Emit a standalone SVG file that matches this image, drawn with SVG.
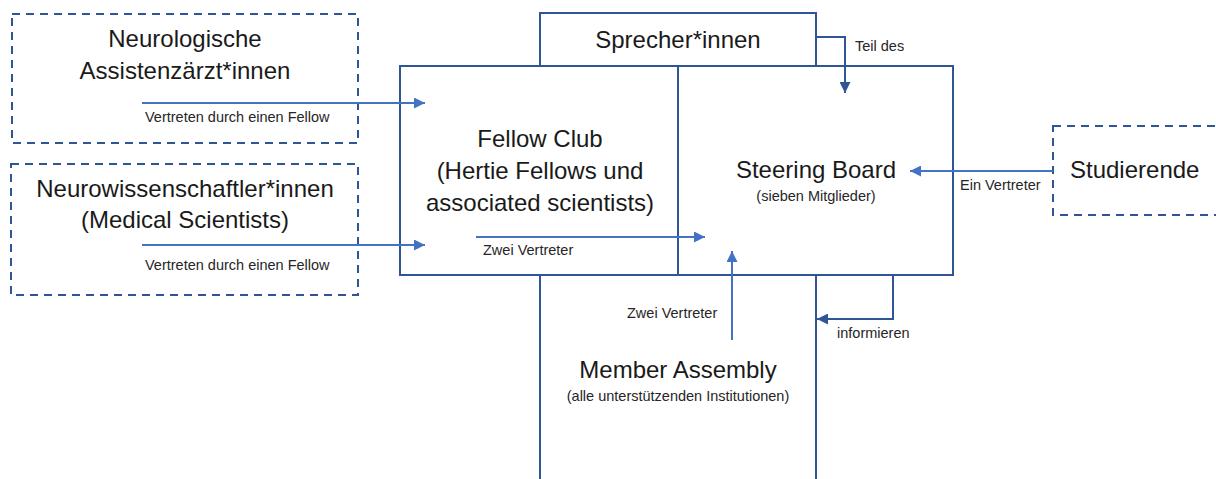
<svg xmlns="http://www.w3.org/2000/svg" width="1216" height="479" viewBox="0 0 1216 479">
<style>
.box{fill:none;stroke:#2F5597;stroke-width:2}
.dash{fill:none;stroke:#2F5597;stroke-width:2;stroke-dasharray:8,6}
.con{fill:none;stroke:#4472C4;stroke-width:2}
.con2{fill:none;stroke:#2F5597;stroke-width:2}
.t{font-family:"Liberation Sans",Arial,sans-serif;font-size:24px;fill:#1a1a1a;text-anchor:middle}
.s{font-family:"Liberation Sans",Arial,sans-serif;font-size:14.5px;fill:#262626}
.m{text-anchor:middle}
.st{text-anchor:start}
</style>
<defs>
<marker id="ah" markerWidth="12" markerHeight="11" refX="11" refY="5.5" orient="auto" markerUnits="userSpaceOnUse"><path d="M0,0 L11,5.5 L0,11 z" fill="#4472C4"/></marker>
<marker id="ah2" markerWidth="12" markerHeight="11" refX="11" refY="5.5" orient="auto" markerUnits="userSpaceOnUse"><path d="M0,0 L11,5.5 L0,11 z" fill="#2F5597"/></marker>
</defs>
<rect width="1216" height="479" fill="#ffffff"/>
<g id="node-neurologische">
<rect class="dash" x="12" y="14" width="346" height="129"/>
<text class="t" x="185" y="47">Neurologische</text>
<text class="t" x="185" y="79">Assistenzärzt*innen</text>
</g>
<g id="node-neurowissenschaftler">
<rect class="dash" x="11" y="164" width="347" height="131"/>
<text class="t" x="185" y="197">Neurowissenschaftler*innen</text>
<text class="t" x="185" y="228">(Medical Scientists)</text>
</g>
<g id="node-fellowclub">
<rect class="box" x="400" y="66" width="278" height="209"/>
<text class="t" x="540" y="147">Fellow Club</text>
<text class="t" x="540" y="179">(Hertie Fellows und</text>
<text class="t" x="540" y="211">associated scientists)</text>
</g>
<g id="node-steeringboard">
<rect class="box" x="678" y="66" width="275" height="209"/>
<text class="t" x="816" y="178">Steering Board</text>
<text class="s m" x="816" y="201">(sieben Mitglieder)</text>
</g>
<g id="node-sprecher">
<rect class="box" x="540" y="13" width="276" height="53"/>
<text class="t" x="678" y="48">Sprecher*innen</text>
</g>
<g id="node-memberassembly">
<path class="box" d="M540,275 V485 M816,275 V485"/>
<text class="t" x="678" y="378">Member Assembly</text>
<text class="s m" x="678" y="401">(alle unterstützenden Institutionen)</text>
</g>
<g id="node-studierende">
<rect class="dash" x="1053" y="126" width="180" height="89"/>
<text class="t st" x="1070" y="178">Studierende</text>
</g>
<g id="connectors">
<path class="con" d="M142,103 H425" marker-end="url(#ah)"/>
<text class="s" x="145" y="122">Vertreten durch einen Fellow</text>
<path class="con" d="M142,245 H425" marker-end="url(#ah)"/>
<text class="s" x="145" y="270">Vertreten durch einen Fellow</text>
<path class="con" d="M476,237 H705" marker-end="url(#ah)"/>
<text class="s" x="483" y="255">Zwei Vertreter</text>
<path class="con2" d="M816,37 H845 V93" marker-end="url(#ah2)"/>
<text class="s" x="855" y="51">Teil des</text>
<path class="con" d="M1053,171 H910" marker-end="url(#ah)"/>
<text class="s" x="960" y="190">Ein Vertreter</text>
<path class="con" d="M732,340 V251" marker-end="url(#ah)" stroke-width="1.6"/>
<text class="s" x="627" y="318">Zwei Vertreter</text>
<path class="con2" d="M893,275 V319 H817" marker-end="url(#ah2)"/>
<text class="s" x="837" y="338">informieren</text>
</g>
</svg>
